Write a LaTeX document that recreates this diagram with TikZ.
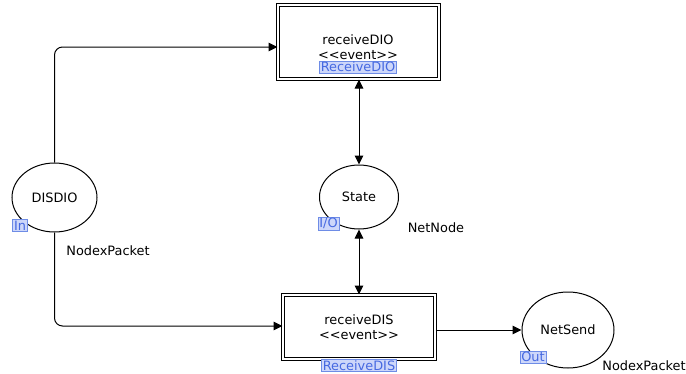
\documentclass[tikz,border=0pt]{standalone}
\usepackage{fontspec}
\setmainfont{DejaVu Sans}
\usetikzlibrary{shapes.geometric,arrows.meta}
\definecolor{tagfill}{RGB}{205,215,250}
\definecolor{tagline}{RGB}{110,140,230}
\definecolor{tagtext}{RGB}{70,105,225}
\begin{document}
\begin{tikzpicture}[x=1pt,y=-1pt,
  font=\fontsize{12.9}{14}\selectfont,
  place/.style={draw,ellipse,line width=1pt,inner sep=0pt},
  trans/.style={draw,rectangle,line width=1pt,double,double distance=2.6pt,inner sep=0pt},
  label/.style={align=center,inner sep=0pt},
  tag/.style={draw=tagline,fill=tagfill,text=tagtext,inner xsep=1.5pt,inner ysep=1.2pt,
    line width=0.6pt,font=\fontsize{12.9}{13}\selectfont},
  arc/.style={line width=1pt,-{Triangle[length=9pt,width=8.5pt]},rounded corners=8pt},
  biarc/.style={line width=1pt,{Triangle[length=9pt,width=8.5pt]}-{Triangle[length=9pt,width=8.5pt]}}]
\useasboundingbox (0,0) rectangle (686,373);

% places
\node[place,minimum width=85pt,minimum height=69pt] (disdio) at (54.5,197.5) {DISDIO};
\node[place,minimum width=79pt,minimum height=64pt] (state) at (359,197) {State};
\node[place,minimum width=92pt,minimum height=76pt] (netsend) at (568,330) {NetSend};

% transitions
\node[trans,minimum width=161pt,minimum height=74pt] (rdio) at (358.5,42) {};
\node[trans,minimum width=152pt,minimum height=64pt] (rdis) at (359,327) {};
\node[label] (rdiotxt) at (358,47) {receiveDIO\\[1pt]{<}{<}event{>}{>}};
\node[label] (rdistxt) at (359,327) {receiveDIS\\[1pt]{<}{<}event{>}{>}};

% port and function tags
\node[tag] (tagdio) at (358,67) {ReceiveDIO};
\node[tag] (tagdis) at (359,365.5) {ReceiveDIS};
\node[tag] (tagin) at (20,225.5) {In};
\node[tag] (tagio) at (328.5,223.5) {I/O};
\node[tag] (tagout) at (533,357) {Out};

% colour sets
\node (cs1) at (108,251) {NodexPacket};
\node (cs2) at (436,228) {NetNode};
\node (cs3) at (644,366) {NodexPacket};

% arcs
\coordinate (c1) at (54.5,47);
\coordinate (c2) at (54.5,326);
\draw[arc] (disdio.north) -- (c1) -- (rdio.west |- c1);
\draw[arc] (disdio.south) -- (c2) -- (rdis.west |- c2);
\draw[biarc] (rdio.south -| state.north) -- (state.north);
\draw[biarc] (state.south) -- (rdis.north -| state.south);
\draw[arc] (rdis.east |- netsend.west) -- (netsend.west);
\end{tikzpicture}
\end{document}
